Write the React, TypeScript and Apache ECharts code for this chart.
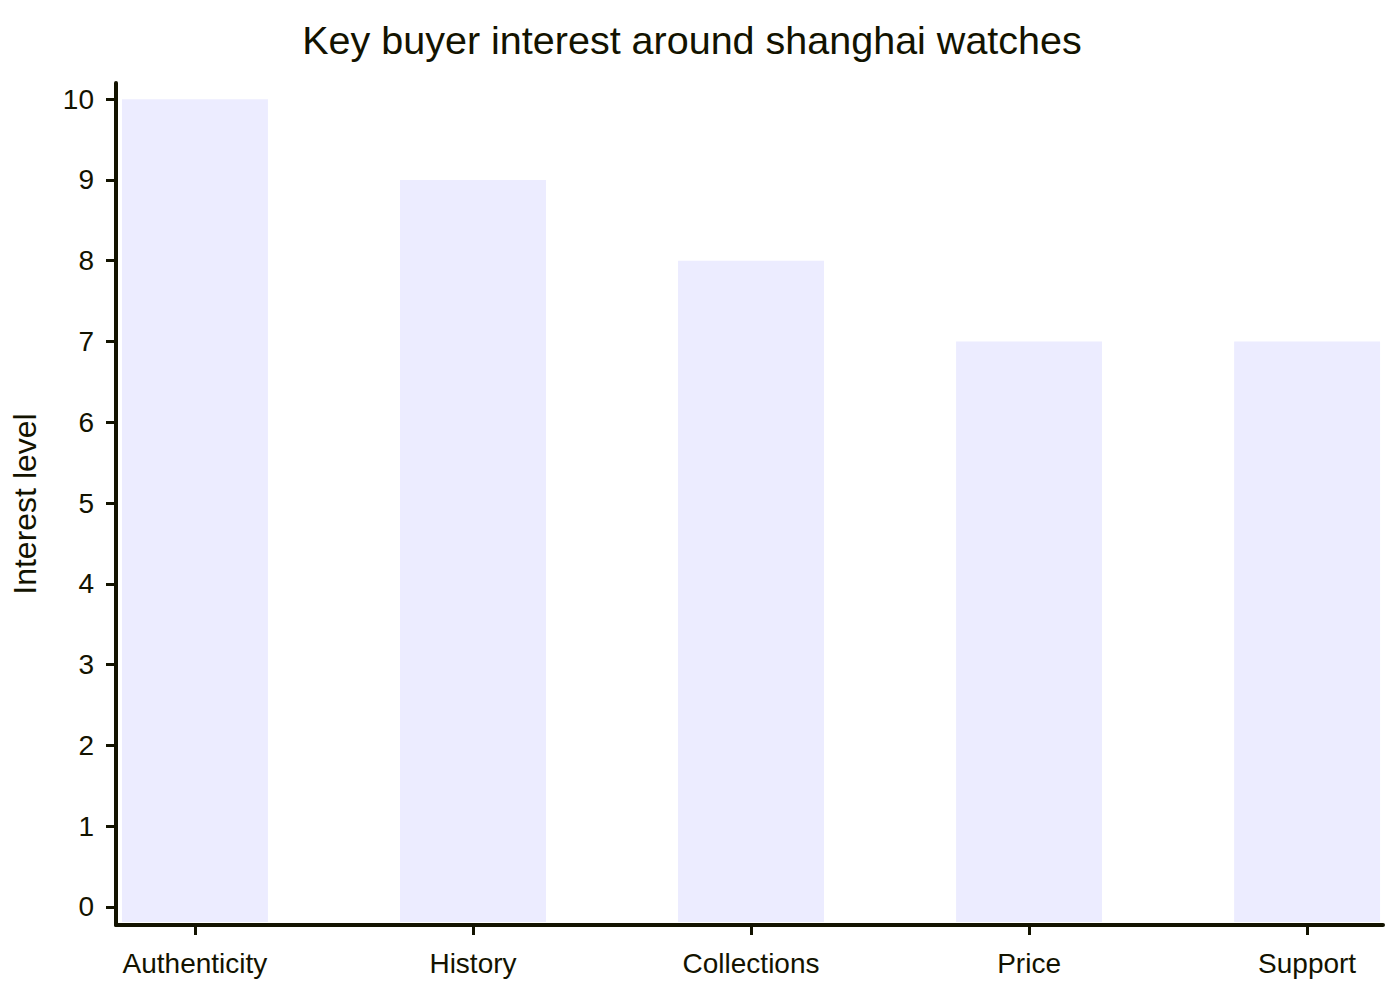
import * as echarts from "echarts";
import { useEffect, useRef } from "react";

// data
const categories = ["Authenticity", "History", "Collections", "Price", "Support"];
const interest = [10, 9, 8, 7, 7];
const yTicks = [0, 1, 2, 3, 4, 5, 6, 7, 8, 9, 10];

const TEXT = "#131300";
const BAR = "#ECECFF";
const FONT = "'Liberation Sans', Arial, sans-serif";

// axis extents so the plot lines up with the reference frame
const Y_MIN = -0.223;
const Y_MAX = 10.2;
const X_MIN = -0.284;
const X_MAX = 4.273;
const BAR_W = 0.525;

const App = () => {
  const chartRef = useRef<HTMLDivElement | null>(null);

  useEffect(() => {
    document.body.style.margin = "0";
    const chart = echarts.init(chartRef.current!, null, { renderer: "svg" });

    const option = {
      animation: false,
      textStyle: { fontFamily: FONT, color: TEXT },
      title: {
        text: "Key buyer interest around shanghai watches",
        left: 687,
        top: 15,
        textAlign: "center",
        textStyle: { fontSize: 39.5, fontWeight: "normal", color: TEXT, fontFamily: FONT },
      },
      grid: { left: 116, right: 17, top: 83, bottom: 75, outerBoundsMode: "none", containLabel: false },
      xAxis: {
        type: "value",
        min: X_MIN,
        max: X_MAX,
        splitLine: { show: false },
        axisLine: { show: true, onZero: false, lineStyle: { color: TEXT, width: 4 } },
        axisTick: {
          show: true,
          length: 10,
          customValues: categories.map((_, i) => i),
          lineStyle: { color: TEXT, width: 3 },
        },
        axisLabel: {
          customValues: categories.map((_, i) => i),
          formatter: (v: number) => categories[Math.round(v)] ?? "",
          fontSize: 28,
          color: TEXT,
          fontFamily: FONT,
          margin: 24,
        },
      },
      yAxis: {
        type: "value",
        min: Y_MIN,
        max: Y_MAX,
        name: "Interest level",
        nameLocation: "middle",
        nameGap: 75,
        nameTextStyle: { fontSize: 32, color: TEXT, fontFamily: FONT },
        splitLine: { show: false },
        axisLine: { show: true, onZero: false, lineStyle: { color: TEXT, width: 4 } },
        axisTick: {
          show: true,
          length: 10,
          customValues: yTicks,
          lineStyle: { color: TEXT, width: 3 },
        },
        axisLabel: {
          customValues: yTicks,
          fontSize: 28,
          color: TEXT,
          fontFamily: FONT,
          margin: 22,
        },
      },
      series: [
        {
          type: "custom",
          data: interest.map((v, i) => [i, v]),
          renderItem: (_params: any, api: any) => {
            const i = api.value(0);
            const v = api.value(1);
            const top = api.coord([i, v]);
            const bottom = api.coord([i, Y_MIN]);
            const w = api.size([BAR_W, 0])[0];
            return {
              type: "rect",
              shape: { x: top[0] - w / 2, y: top[1], width: w, height: bottom[1] - top[1] - 3 },
              style: { fill: BAR },
            };
          },
        },
      ],
    };

    chart.setOption(option);
    return () => {
      chart.dispose();
    };
  }, []);

  return <div ref={chartRef} style={{ width: "1400px", height: "1000px" }} />;
};

export default App;
